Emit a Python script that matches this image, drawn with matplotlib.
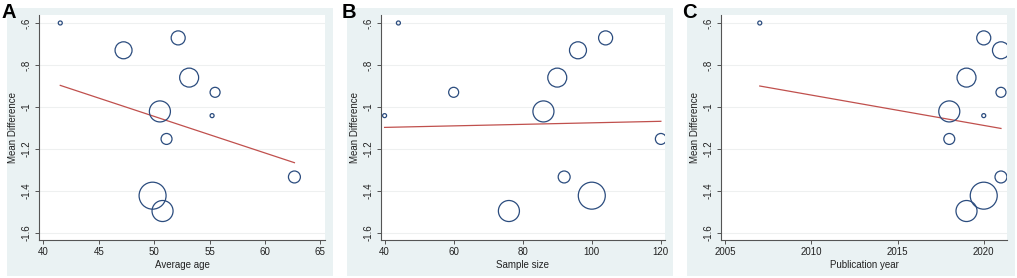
"""Meta-regression bubble plots: mean difference vs. age, sample size, year."""

import matplotlib

matplotlib.use("Agg")
import matplotlib.pyplot as plt
import numpy as np
from matplotlib.patches import Rectangle

plt.rcParams["font.family"] = ["Liberation Sans", "DejaVu Sans"]

# one entry per study
mean_diff = [-0.60, -0.671, -0.730, -0.860, -0.930, -1.021, -1.041, -1.152, -1.333, -1.422, -1.495]
weight = [0.56, 6.9, 10.1, 12.6, 3.5, 15.5, 0.56, 4.2, 5.0, 25.5, 15.5]
avg_age = [41.53, 52.17, 47.24, 53.16, 55.5, 50.52, 55.23, 51.12, 62.66, 49.86, 50.76]
sample_size = [44, 104, 96, 90, 60, 86, 40, 120, 92, 100, 76]
pub_year = [2007, 2020, 2021, 2019, 2021, 2018, 2020, 2018, 2021, 2020, 2019]

# fitted meta-regression lines: (y at min x, y at max x)
fit_a = (-0.897, -1.265)
fit_b = (-1.097, -1.068)
fit_c = (-0.900, -1.102)

y_ticks = [-0.6, -0.8, -1.0, -1.2, -1.4, -1.6]
y_ticklabels = ["-.6", "-.8", "-1", "-1.2", "-1.4", "-1.6"]

W, H = 1017, 278
NAVY = "#2b4c7e"
RED = "#c0504d"
BG = "#eaf2f3"

panels = [
    # letter, x data, fit, xlabel, xticks, xlim, axes left/right px, box left/right px
    ("A", avg_age, fit_a, "Average age", [40, 45, 50, 55, 60, 65], (39.61, 65.42), (39, 325), (7, 333)),
    ("B", sample_size, fit_b, "Sample size", [40, 60, 80, 100, 120], (38.96, 121.2), (381, 665), (347, 673)),
    ("C", pub_year, fit_c, "Publication year", [2005, 2010, 2015, 2020], (2004.75, 2021.35), (721, 1007), (687, 1015)),
]

fig = plt.figure(figsize=(W / 100, H / 100), dpi=100)

for letter, xs, fit, xlabel, xticks, xlim, (l, r), (bl, br) in panels:
    fig.patches.append(Rectangle((bl / W, 2 / H), (br - bl) / W, (276 - 8) / H,
                                 transform=fig.transFigure, facecolor=BG,
                                 edgecolor="none", zorder=0))
    ax = fig.add_axes([l / W, (H - 240) / H, (r - l) / W, (240 - 15) / H])
    ax.set_facecolor("white")
    ax.set_zorder(1)

    sizes = np.array(weight) * 14.8
    ax.scatter(xs, mean_diff, s=sizes, facecolors="none", edgecolors=NAVY,
               linewidths=0.9, zorder=3)
    x0, x1 = min(xs), max(xs)
    ax.plot([x0, x1], list(fit), color=RED, lw=0.9, zorder=2)

    ax.set_xlim(*xlim)
    ax.set_ylim(-1.633, -0.562)
    ax.set_yticks(y_ticks)
    ax.set_yticklabels(y_ticklabels, rotation=90, va="center")
    ax.set_xticks(xticks)
    ax.grid(axis="y", color="#eef0f0", lw=0.8)
    ax.set_axisbelow(True)
    for s in ("top", "right"):
        ax.spines[s].set_visible(False)
    for s in ("left", "bottom"):
        ax.spines[s].set_color("#555555")
        ax.spines[s].set_linewidth(0.8)
    ax.tick_params(length=3, width=0.7, color="#555555", labelsize=7,
                   labelcolor="#222222", pad=2)
    ax.set_xlabel(xlabel, fontsize=7, color="#222222", labelpad=2)
    ax.set_ylabel("Mean Difference", fontsize=7, color="#222222", labelpad=3)

    fig.text((bl - 5) / W, (H - 3) / H, letter, fontsize=14.5, fontweight="bold",
             va="top", ha="left", zorder=5)

fig.savefig("out.png", dpi=100)
